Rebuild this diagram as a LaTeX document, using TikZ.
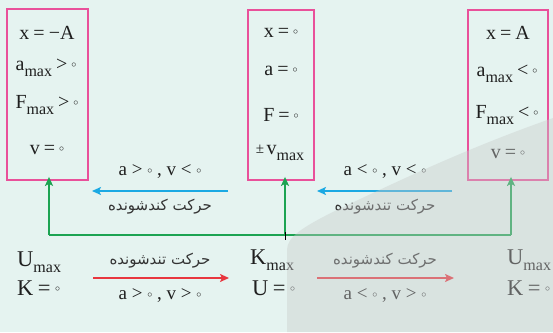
\documentclass[tikz,border=0pt]{standalone}
\usepackage{fontspec}
\setmainfont{Liberation Serif}
\newfontfamily\boxfont{Liberation Serif}[WordSpace=0.8]
\newfontfamily\fa[Script=Arabic]{DejaVu Sans}
\TeXXeTstate=1
\usetikzlibrary{arrows.meta}
\definecolor{bgc}{HTML}{E5F3F0}
\definecolor{shadec}{HTML}{C8CBCA}
\definecolor{pinkc}{HTML}{E9509A}
\definecolor{bluec}{HTML}{1BA9E3}
\definecolor{greenc}{HTML}{1CA352}
\definecolor{redc}{HTML}{E8363E}
\newcommand{\mx}{\raisebox{-0.6ex}{\fontsize{16}{16}\selectfont max}}
\newcommand{\zr}{\raisebox{0.15em}{\fontsize{10}{10}\selectfont$\circ$}}
\newcommand{\pmst}{\raisebox{1pt}{\fontsize{15}{15}\selectfont ±}\kern2.5pt}
\tikzset{
  pinkbox/.style={draw=pinkc, line width=1.8pt, inner sep=0pt},
  boxtxt/.style={inner sep=0pt, font=\fontsize{20}{20}\boxfont, text=black!88},
  bigtxt/.style={inner sep=0pt, font=\fontsize{22.5}{22.5}\boxfont, text=black!88, anchor=west},
  lbl/.style={inner sep=0pt, font=\fontsize{19}{19}\selectfont, text=black!88},
  falbl/.style={inner sep=0pt, font=\fontsize{15}{15}\fa, text=black!80},
  tipA/.style={-{Stealth[length=9pt,width=8pt,inset=2pt]}},
  bluearr/.style={tipA, draw=bluec, line width=2pt},
  redarr/.style={tipA, draw=redc, line width=2pt},
  grnarr/.style={tipA, draw=greenc, line width=2pt},
  grnline/.style={draw=greenc, line width=2pt},
}
\begin{document}
\begin{tikzpicture}[x=1pt,y=-1pt]
\fill[bgc] (0,0) rectangle (553,332);
\useasboundingbox (0,0) rectangle (553,332);

% boxes
\node[pinkbox, minimum width=81pt, minimum height=171pt] (box1) at (47.5,94.5) {};
\node[pinkbox, minimum width=66pt, minimum height=170pt] (box2) at (281,95) {};
\node[pinkbox, minimum width=80pt, minimum height=170pt] (box3) at (508,95) {};

% box 1 text
\node[boxtxt] (t11) at (47,33) {x = −A};
\node[boxtxt] (t12) at (46,68) {a\mx{} > \zr};
\node[boxtxt] (t13) at (47,105) {F\mx{} > \zr};
\node[boxtxt] (t14) at (47,150) {v = \zr};
% box 2 text
\node[boxtxt] (t21) at (281,33) {x = \zr};
\node[boxtxt] (t22) at (281,71) {a = \zr};
\node[boxtxt] (t23) at (281,115) {F = \zr};
\node[boxtxt] (t24) at (280,153) {\pmst v\mx};
% box 3 text
\node[boxtxt] (t31) at (508,33) {x = A};
\node[boxtxt] (t32) at (507,74) {a\mx{} < \zr};
\node[boxtxt] (t33) at (507,115) {F\mx{} < \zr};
\node[boxtxt] (t34) at (508,154) {v = \zr};

% blue arrows
\coordinate (ba1) at (228,191);
\coordinate (ba2) at (92,191);
\coordinate (bb1) at (452,191);
\coordinate (bb2) at (317,191);
\draw[bluearr] (ba1) -- (ba2);
\draw[bluearr] (bb1) -- (bb2);
\node[lbl] (l1) at (160,172) {a > \zr{} , v < \zr};
\node[lbl] (l2) at (385,172) {a < \zr{} , v < \zr};
\node[falbl] (p1) at (160,207) {\beginR حرکت کندشونده\endR};
\node[falbl] (p2) at (385,207) {\beginR حرکت تندشونده\endR};

% green connectors
\coordinate (g1) at (49,235);
\coordinate (g2) at (285,235);
\coordinate (g3) at (511,235);
\draw[grnline] (g1) -- (g3);
\draw[grnarr] (g1) -- ([yshift=4pt]g1 |- box1.south);
\draw[grnarr] (g2) -- ([yshift=4pt]g2 |- box2.south);
\draw[grnarr] (g3) -- ([yshift=4pt]g3 |- box3.south);
\coordinate (tk1) at (285,232);
\coordinate (tk2) at (285,240);
\draw[black, line width=0.9pt] (tk1) -- (tk2);

% bottom text
\node[bigtxt] (u1) at (17,262) {U\mx};
\node[bigtxt] (k1) at (17,288) {K = \zr};
\node[bigtxt] (k2) at (250,260) {K\mx};
\node[bigtxt] (u2) at (252,288) {U = \zr};
\node[bigtxt] (u3) at (507,260) {U\mx};
\node[bigtxt] (k3) at (507,288) {K = \zr};

% red arrows
\coordinate (ra1) at (93,278);
\coordinate (ra2) at (229,278);
\coordinate (rb1) at (317,278);
\coordinate (rb2) at (454,278);
\draw[redarr] (ra1) -- (ra2);
\draw[redarr] (rb1) -- (rb2);
\node[falbl] (p3) at (160,261) {\beginR حرکت تندشونده\endR};
\node[falbl] (p4) at (385,261) {\beginR حرکت کندشونده\endR};
\node[lbl] (l3) at (160,296) {a > \zr{} , v > \zr};
\node[lbl] (l4) at (385,296) {a < \zr{} , v > \zr};

% shaded overlay
\fill[shadec, opacity=0.4] (287,332) -- (287,250) .. controls (287,238) and (300,228) .. (337,210) .. controls (400,180) and (470,147) .. (553,118) -- (553,332) -- cycle;
\end{tikzpicture}
\end{document}
